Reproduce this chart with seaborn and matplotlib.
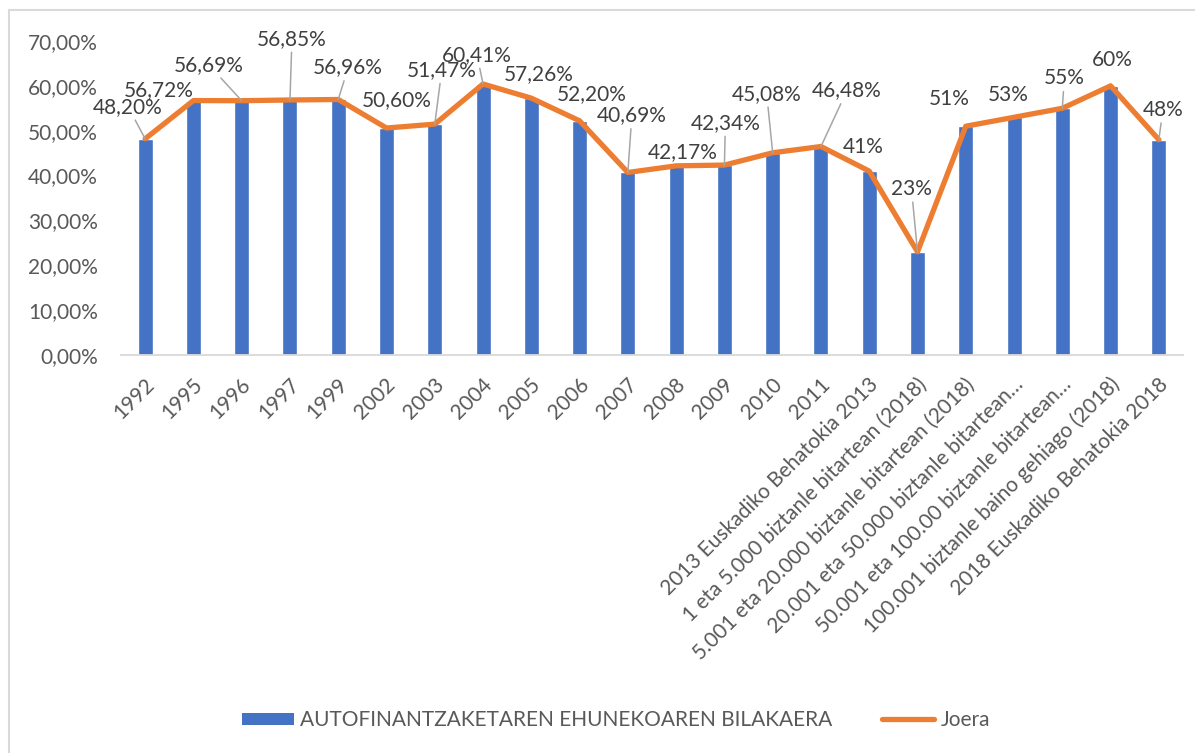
import numpy as np
import pandas as pd
import matplotlib
matplotlib.use("Agg")
import matplotlib.pyplot as plt
from matplotlib.lines import Line2D
from matplotlib.patches import Patch
from matplotlib.ticker import FuncFormatter, MultipleLocator
from matplotlib.transforms import ScaledTranslation
import seaborn as sns

# --- data -------------------------------------------------------------
categories = [
    "1992", "1995", "1996", "1997", "1999", "2002", "2003", "2004", "2005",
    "2006", "2007", "2008", "2009", "2010", "2011",
    "2013 Euskadiko Behatokia 2013",
    "1 eta 5.000 biztanle bitartean (2018)",
    "5.001 eta 20.000 biztanle bitartean (2018)",
    "20.001 eta 50.000 biztanle bitartean…",
    "50.001 eta 100.00 biztanle bitartean…",
    "100.001 biztanle baino gehiago (2018)",
    "2018 Euskadiko Behatokia 2018",
]
values = [48.20, 56.72, 56.69, 56.85, 56.96, 50.60, 51.47, 60.41, 57.26,
          52.20, 40.69, 42.17, 42.34, 45.08, 46.48,
          41, 23, 51, 53, 55, 60, 48]
decimals = [2] * 15 + [0] * 7

bar_name = "AUTOFINANTZAKETAREN EHUNEKOAREN BILAKAERA"
line_name = "Joera"

# label placement (pixel offsets from the trend point) and leader lines
label_dx = [-17, -35, -33, 2, 10, 10, 7, -6, 7, 12, 4, 7, 1, -6, 26,
            -6, -6, -17, -6, 2, 2, 4]
label_dy = [32, 10, 36, 61, 32, 28, 54, 29, 24, 27, 57, 14, 42, 59, 56,
            24, 63, 27, 22, 30, 26, 30]
leader = [True, False, True, True, True, False, True, True, False, False,
          True, False, True, True, True, False, True, False, False, True,
          False, True]

BLUE = "#4472C4"
ORANGE = "#ED7D31"
TXT = "#595959"
LBL = "#404040"

sns.set_theme(style="white")
plt.rcParams["font.family"] = ["Lato", "DejaVu Sans"]

df = pd.DataFrame({"cat": categories, "val": values, "pos": np.arange(len(values))})

fig = plt.figure(figsize=(11.95, 7.53), dpi=100)
ax = fig.add_axes([121 / 1195, 1 - 355 / 753, (1183 - 121) / 1195, (355 - 41) / 753])

sns.barplot(data=df, x="cat", y="val", order=categories, color=BLUE,
            width=0.31, saturation=1, ax=ax, zorder=2)
sns.lineplot(data=df, x="pos", y="val", color=ORANGE, linewidth=3.8,
             ax=ax, zorder=3, solid_capstyle="round", solid_joinstyle="round")

ax.set_xlim(-0.5, len(values) - 0.5)
ax.set_ylim(0, 70)
ax.yaxis.set_major_locator(MultipleLocator(10))
ax.yaxis.set_major_formatter(FuncFormatter(lambda v, p: f"{v:.2f}%".replace(".", ",")))
ax.set_xlabel("")
ax.set_ylabel("")

for s in ["top", "right", "left"]:
    ax.spines[s].set_visible(False)
ax.spines["bottom"].set_color("#D9D9D9")
ax.spines["bottom"].set_linewidth(1.3)
ax.grid(False)

ax.tick_params(axis="y", length=0, pad=16.5, labelsize=15, labelcolor=TXT)
ax.tick_params(axis="x", length=0, pad=19, labelsize=15, labelcolor=TXT)
shift = ScaledTranslation(6 / 100, 0, fig.dpi_scale_trans)
for lab in ax.get_xticklabels():
    lab.set_rotation(45)
    lab.set_ha("right")
    lab.set_va("center")
    lab.set_rotation_mode("anchor")
    lab.set_transform(lab.get_transform() + shift)

# data labels
for i, v in enumerate(values):
    txt = f"{v:.{decimals[i]}f}%".replace(".", ",")
    props = None
    if leader[i]:
        props = dict(arrowstyle="-", color="#A6A6A6", lw=1.1,
                     shrinkA=0, shrinkB=0)
    ax.annotate(txt, xy=(i, v), xytext=(label_dx[i], label_dy[i]),
                textcoords="offset pixels", ha="center", va="center",
                fontsize=15, color=LBL, arrowprops=props, zorder=4,
                annotation_clip=False)

# legend
handles = [Patch(facecolor=BLUE, edgecolor="none"),
           Line2D([], [], color=ORANGE, lw=3.8, solid_capstyle="round")]
fig.legend(handles, [bar_name, line_name], loc="center",
           bbox_to_anchor=(616 / 1195, 1 - 720 / 753), ncol=2, frameon=False,
           fontsize=15, labelcolor=TXT, handlelength=2.5, handleheight=0.5,
           handletextpad=0.3, columnspacing=2.4)

# chart area frame
frame = "#D9D9D9"
fig.add_artist(Line2D([9 / 1195, 1.0], [1 - 10 / 753] * 2, color=frame, lw=1.5,
                      transform=fig.transFigure))
fig.add_artist(Line2D([9 / 1195] * 2, [0.0, 1 - 10 / 753], color=frame, lw=1.5,
                      transform=fig.transFigure))

fig.savefig("out.png", dpi=100)
